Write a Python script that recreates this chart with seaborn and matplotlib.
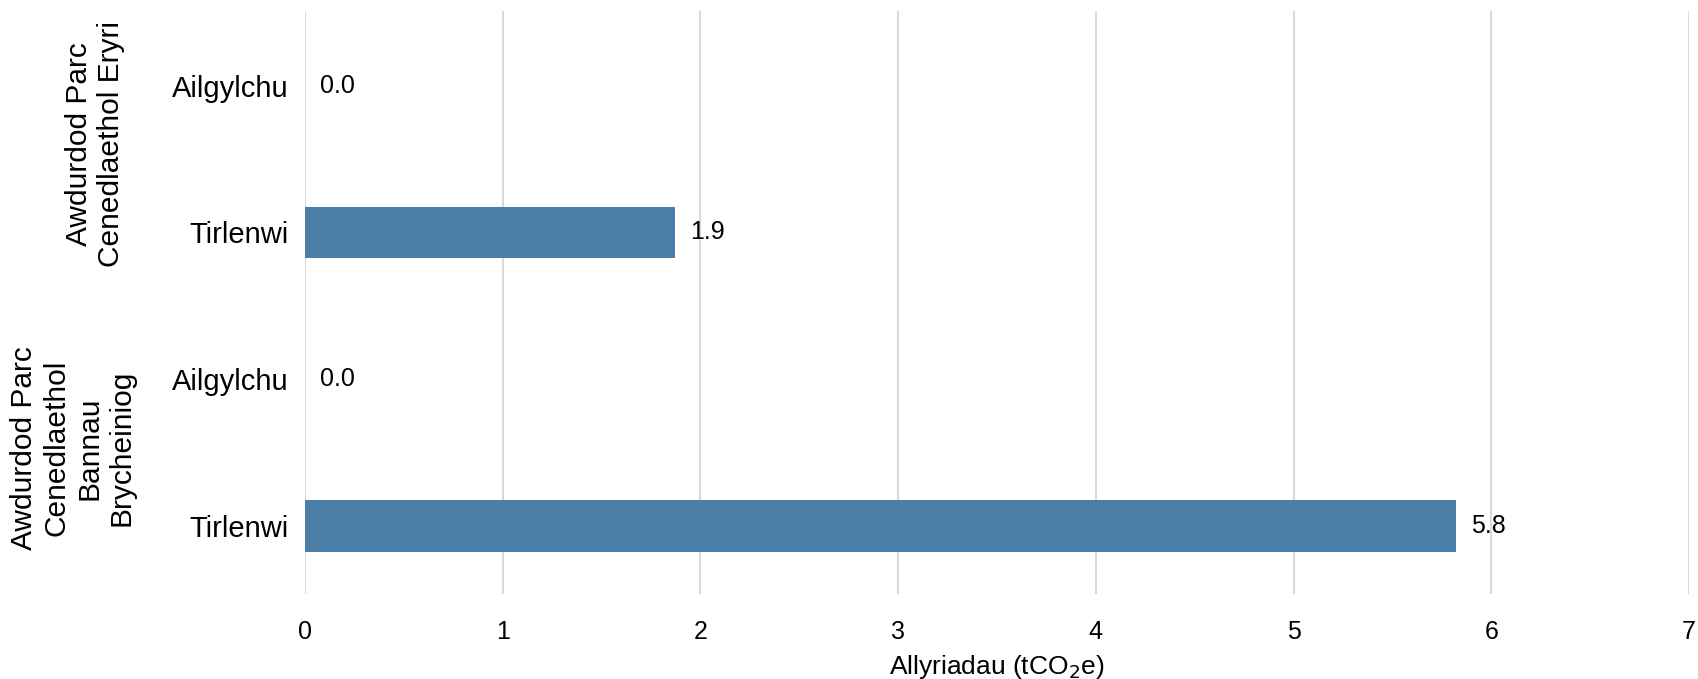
import pandas as pd
import seaborn as sns
import matplotlib
matplotlib.use("Agg")
import matplotlib.pyplot as plt
from matplotlib.transforms import blended_transform_factory

groups = ["Awdurdod Parc\nCenedlaethol Eryri",
          "Awdurdod Parc\nCenedlaethol\nBannau\nBrycheiniog"]
types = ["Ailgylchu", "Tirlenwi"]
eryri = [0.0, 1.87]
bannau = [0.0, 5.82]

rows = []
for g, vals in zip(groups, [eryri, bannau]):
    for t, v in zip(types, vals):
        rows.append({"key": g + "|" + t, "group": g, "type": t, "value": v})
df = pd.DataFrame(rows)

sns.set_style("white")
plt.rcParams["font.family"] = ["Liberation Sans", "DejaVu Sans"]
plt.rcParams["text.color"] = "black"
plt.rcParams["xtick.color"] = "black"
plt.rcParams["ytick.color"] = "black"
plt.rcParams["axes.labelcolor"] = "black"

fig = plt.figure(figsize=(16.98, 6.79), dpi=100)
ax = fig.add_axes([0.1796, 0.1252, 0.8151, 0.8586])

sns.barplot(data=df, x="value", y="key", orient="h", color="#4a7ea7",
            saturation=1, width=0.35, linewidth=0, ax=ax)

ax.set_xlim(0, 7)
ax.set_ylim(3.463, -0.508)
ax.set_xticks(range(0, 8))
ax.grid(axis="x", color="#d9d9d9", linewidth=1.5)
ax.set_axisbelow(True)
sns.despine(ax=ax, left=True, bottom=True)
ax.tick_params(axis="both", length=0)
ax.tick_params(axis="x", labelsize=18, pad=19)
ax.tick_params(axis="y", labelsize=21, pad=12)
ax.set_yticks(range(len(df)))
ax.set_yticklabels(df["type"])
ax.set_ylabel("")
ax.set_xlabel("Allyriadau (tCO$_2$e)", fontsize=19, labelpad=6)

# value labels
for i, v in enumerate(df["value"]):
    ax.annotate(f"{v:.1f}", xy=(v, i), xytext=(11, 0), textcoords="offset points",
                ha="left", va="center", fontsize=18)

# group labels on the left
tr = blended_transform_factory(fig.transFigure, ax.transData)
fig.text(0.056, 0.40, groups[0], transform=tr, rotation=90, ha="center",
         va="center", fontsize=21.5, multialignment="center")
fig.text(0.043, 2.47, groups[1], transform=tr, rotation=90, ha="center",
         va="center", fontsize=21.5, multialignment="center")

fig.savefig("out.png", dpi=100)
